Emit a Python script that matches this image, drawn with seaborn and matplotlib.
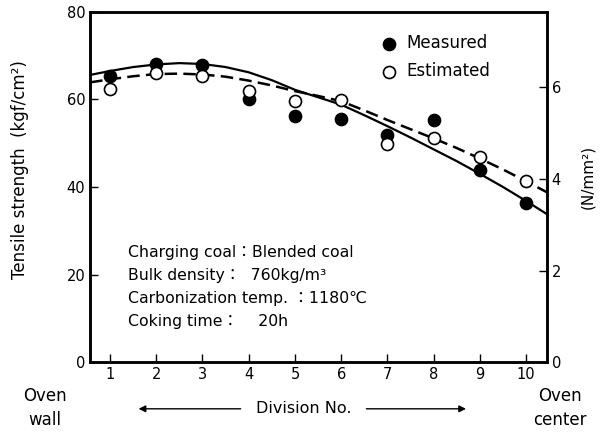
import numpy as np
import pandas as pd
import matplotlib
matplotlib.use("Agg")
import matplotlib.pyplot as plt
import seaborn as sns

# values
division = [1, 2, 3, 4, 5, 6, 7, 8, 9, 10]
measured = [65.4, 68.1, 67.9, 60.1, 56.3, 55.6, 51.9, 55.2, 43.9, 36.3]
estimated = [62.3, 66.1, 65.4, 62.0, 59.7, 59.9, 49.8, 51.3, 46.9, 41.4]

# traced points of the two fitted curves
curve_x = [0.57, 1, 1.5, 2, 2.5, 3, 3.5, 4, 4.5, 5, 5.5, 6, 6.5, 7, 7.5,
           8, 8.5, 9, 9.5, 10, 10.45]
measured_curve = [65.6, 66.5, 67.4, 68.0, 68.3, 68.1, 67.4, 66.2, 64.4, 62.2,
                  60.5, 58.8, 56.4, 53.9, 51.3, 48.6, 45.9, 43.0, 40.0, 36.8, 33.8]
estimated_curve = [63.9, 64.6, 65.3, 65.8, 65.9, 65.7, 65.2, 64.3, 63.2, 61.9,
                   60.8, 59.6, 57.5, 55.3, 53.2, 51.1, 48.9, 46.5, 44.0, 41.3, 38.8]

conditions = ["Charging coal：Blended coal",
              "Bulk density：  760kg/m³",
              "Carbonization temp. ：1180℃",
              "Coking time：    20h"]

sns.set_style("ticks")
plt.rcParams["font.family"] = ["DejaVu Sans", "Noto Sans CJK JP"]
plt.rcParams["xtick.direction"] = "in"
plt.rcParams["ytick.direction"] = "in"
plt.rcParams["text.color"] = "black"
plt.rcParams["axes.labelcolor"] = "black"
plt.rcParams["xtick.color"] = "black"
plt.rcParams["ytick.color"] = "black"
plt.rcParams["axes.edgecolor"] = "black"

pts = pd.DataFrame({"division": division, "measured": measured, "estimated": estimated})
curves = pd.DataFrame({"x": curve_x, "m": measured_curve, "e": estimated_curve})

fig = plt.figure(figsize=(6.01, 4.41), dpi=100)
ax = fig.add_axes([0.150, 0.179, 0.760, 0.794])

sns.lineplot(data=curves, x="x", y="m", color="black", lw=1.6, ax=ax)
sns.lineplot(data=curves, x="x", y="e", color="black", lw=1.8, ax=ax,
             dashes=False, linestyle=(0, (5, 2.5)))
sns.scatterplot(data=pts, x="division", y="measured", s=75, color="black",
                edgecolor="black", linewidth=1.2, ax=ax, label="Measured", zorder=3)
sns.scatterplot(data=pts, x="division", y="estimated", s=75, color="white",
                edgecolor="black", linewidth=1.2, ax=ax, label="Estimated", zorder=3)

ax.set_xlim(0.57, 10.45)
ax.set_ylim(0, 80)
ax.set_xticks(division)
ax.set_yticks([0, 20, 40, 60, 80])
ax.set_xlabel("")
ax.set_ylabel("Tensile strength  (kgf/cm²)", fontsize=12)
ax.yaxis.set_label_coords(-0.134, 0.55)
ax.tick_params(labelsize=10.5, length=6, width=1, colors="black")
for s in ax.spines.values():
    s.set_linewidth(1.8)

ax2 = ax.twinx()
ax2.set_ylim(0, 7.65)
ax2.set_yticks([0, 2, 4, 6])
ax2.tick_params(labelsize=10.5, length=6, width=1, direction="in", colors="black")
ax2.set_ylabel("(N/mm²)", fontsize=11)
ax2.yaxis.set_label_coords(1.074, 0.53)
for s in ax2.spines.values():
    s.set_linewidth(1.8)

ax.legend(frameon=False, loc="upper left", bbox_to_anchor=(0.6, 0.98),
          fontsize=12, handletextpad=0.45, labelspacing=0.6, handlelength=1.2,
          labelcolor="black")

for i, t in enumerate(conditions):
    ax.text(1.39, 25.1 - i * 5.3, t, fontsize=11.3, va="center", ha="left")

fig.text(0.074, 0.075, "Oven\nwall", fontsize=12, ha="center", va="center",
         linespacing=1.4)
fig.text(0.932, 0.075, "Oven\ncenter", fontsize=12, ha="center", va="center",
         linespacing=1.4)
fig.text(0.505, 0.073, "Division No.", fontsize=11.5, ha="center", va="center")
ax.annotate("", xy=(0.226, 0.073), xytext=(0.405, 0.073), xycoords="figure fraction",
            arrowprops=dict(arrowstyle="-|>", color="black", lw=1, mutation_scale=10))
ax.annotate("", xy=(0.780, 0.073), xytext=(0.605, 0.073), xycoords="figure fraction",
            arrowprops=dict(arrowstyle="-|>", color="black", lw=1, mutation_scale=10))

fig.savefig("out.png", dpi=100)
